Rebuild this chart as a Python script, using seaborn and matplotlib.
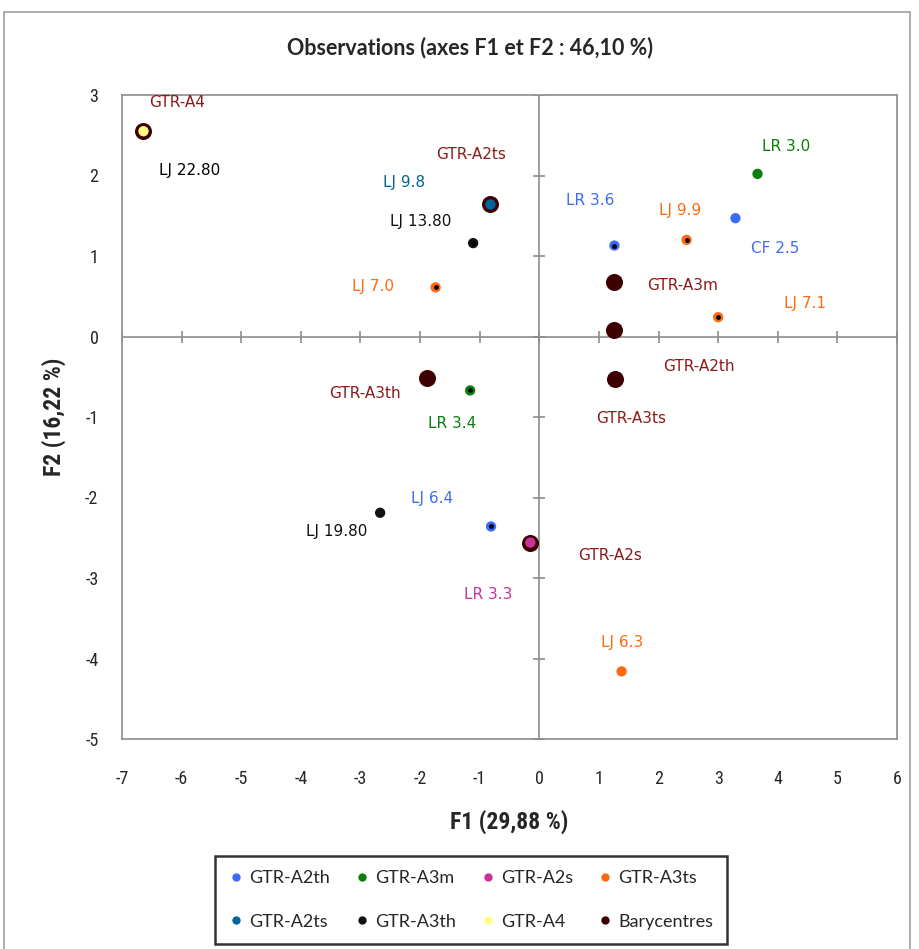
import pandas as pd
import seaborn as sns
import matplotlib.pyplot as plt
from matplotlib.lines import Line2D
from matplotlib.patches import Rectangle

# Observations (PCA scores)
obs_labels = ['LR 3.6', 'CF 2.5', 'LJ 6.4', 'LR 3.0', 'LR 3.4', 'LR 3.3', 'LJ 7.0',
              'LJ 9.9', 'LJ 7.1', 'LJ 6.3', 'LJ 9.8', 'LJ 13.80', 'LJ 19.80', 'LJ 22.80']
obs_groups = ['GTR-A2th', 'GTR-A2th', 'GTR-A2th', 'GTR-A3m', 'GTR-A3m', 'GTR-A2s', 'GTR-A3ts',
              'GTR-A3ts', 'GTR-A3ts', 'GTR-A3ts', 'GTR-A2ts', 'GTR-A3th', 'GTR-A3th', 'GTR-A4']
f1 = [1.26, 3.29, -0.81, 3.66, -1.16, -0.15, -1.74, 2.47, 3.00, 1.38, -0.82, -1.11, -2.67, -6.64]
f2 = [1.13, 1.47, -2.36, 2.02, -0.67, -2.56, 0.61, 1.20, 0.24, -4.16, 1.64, 1.16, -2.19, 2.55]
dark_core = [True, False, True, False, True, False, True, True, True, False, False, True, False, False]

group_order = ['GTR-A2th', 'GTR-A3m', 'GTR-A2s', 'GTR-A3ts', 'GTR-A2ts', 'GTR-A3th', 'GTR-A4']
group_colors = ['#3b6cf6', '#0a7f0a', '#c8329a', '#ff6a10', '#00659b', '#111111', '#fffd80']
bary_color = '#3d0000'
bary_text = '#8b1a1a'

x_ticks = list(range(-7, 7))
y_ticks = list(range(-5, 4))

# label offsets in pixels (dx, dy), dy positive = up
obs_offsets = {'LR 3.6': (-24, 45), 'CF 2.5': (40, -30), 'LJ 6.4': (-59, 28), 'LR 3.0': (29, 27),
               'LR 3.4': (-18, -33), 'LR 3.3': (-42, -52), 'LJ 7.0': (-63, 1), 'LJ 9.9': (-6, 29),
               'LJ 7.1': (87, 14), 'LJ 6.3': (1, 29), 'LJ 9.8': (-86, 22), 'LJ 13.80': (-52, 22),
               'LJ 19.80': (-43, -19), 'LJ 22.80': (46, -39)}
bary_offsets = {'GTR-A4': (34, 29), 'GTR-A2ts': (-19, 50), 'GTR-A3th': (-62, -16), 'GTR-A3m': (69, -3),
                'GTR-A2th': (85, -36), 'GTR-A3ts': (16, -40), 'GTR-A2s': (80, -13)}

df = pd.DataFrame({'label': obs_labels, 'group': obs_groups, 'F1': f1, 'F2': f2, 'core': dark_core})
bary = df.groupby('group', sort=False)[['F1', 'F2']].mean().reset_index()
palette = dict(zip(group_order, group_colors))

sns.set_style('white')
plt.rcParams['font.family'] = ['DejaVu Sans']
fig = plt.figure(figsize=(9.19, 9.49), dpi=100)
ax = fig.add_axes([122 / 919, 1 - 739 / 949, 775 / 919, 644 / 949])

# zero lines with cross ticks
ax.axhline(0, color='#8c8c8c', lw=1.2, zorder=1)
ax.axvline(0, color='#8c8c8c', lw=1.2, zorder=1)
ax.plot(x_ticks, [0] * len(x_ticks), ls='none', marker='|', ms=9, mew=1.2, color='#8c8c8c', zorder=1)
ax.plot([0] * len(y_ticks), y_ticks, ls='none', marker='_', ms=9, mew=1.2, color='#8c8c8c', zorder=1)

sns.scatterplot(data=bary, x='F1', y='F2', color=bary_color, s=150, edgecolor=bary_color,
                linewidth=0, ax=ax, zorder=3, legend=False)
sns.scatterplot(data=df, x='F1', y='F2', hue='group', palette=palette, hue_order=group_order,
                s=55, linewidth=0, ax=ax, zorder=4, legend=False)
sns.scatterplot(data=df[df['core']], x='F1', y='F2', color='black', s=12, linewidth=0,
                ax=ax, zorder=5, legend=False)

for _, r in df.iterrows():
    ax.annotate(r['label'], (r['F1'], r['F2']), xytext=obs_offsets[r['label']], textcoords='offset pixels',
                ha='center', va='center', fontsize=11,
                color=palette[r['group']] if r['group'] != 'GTR-A4' else 'black')
for _, r in bary.iterrows():
    ax.annotate(r['group'], (r['F1'], r['F2']), xytext=bary_offsets[r['group']], textcoords='offset pixels',
                ha='center', va='center', fontsize=11, color=bary_text)

ax.set_xlim(-7, 6)
ax.set_ylim(-5, 3)
ax.set_xticks(x_ticks)
ax.set_yticks(y_ticks)
narrow = ['Liberation Sans Narrow', 'DejaVu Sans Condensed', 'Roboto Condensed', 'DejaVu Sans']
ax.set_xticklabels([str(t) for t in x_ticks], family=narrow, fontsize=13)
ax.set_yticklabels([str(t) for t in y_ticks], family=narrow, fontsize=13)
ax.tick_params(length=0)
ax.tick_params(axis='x', pad=22)
ax.tick_params(axis='y', pad=17)
for s in ax.spines.values():
    s.set_color('#8c8c8c')
    s.set_linewidth(1.2)
ax.set_xlabel('F1 (29,88 %)', family=narrow, fontsize=17, fontweight='bold', labelpad=16)
ax.set_ylabel('F2 (16,22 %)', family=narrow, fontsize=17, fontweight='bold', labelpad=14)

fig.text(470 / 919, 1 - 48 / 949, 'Observations (axes F1 et F2 : 46,10 %)', ha='center', va='center',
         family=['Lato', 'DejaVu Sans'], fontsize=15.5, fontweight='bold')

# outer frame
fig.patches.append(Rectangle((4 / 919, -0.01), 906 / 919, 1 - 12 / 949 + 0.01, transform=fig.transFigure,
                             fill=False, edgecolor='#a0a0a0', lw=1.2))

names = group_order + ['Barycentres']
cols = group_colors + [bary_color]
handles = [Line2D([], [], ls='none', marker='o', ms=6, mew=0, color=c) for c in cols]
order = [0, 4, 1, 5, 2, 6, 3, 7]
leg = fig.legend([handles[i] for i in order], [names[i] for i in order], ncol=4,
                 loc='center', bbox_to_anchor=(471 / 919, 1 - 900 / 949), frameon=True, fancybox=False,
                 handletextpad=0.3, columnspacing=1.4, labelspacing=1.5, handlelength=0.8,
                 borderpad=0.8, prop={'family': ['Lato', 'DejaVu Sans'], 'size': 13})
leg.get_frame().set_edgecolor('black')
leg.get_frame().set_linewidth(1.8)

fig.savefig('out.png', dpi=100)
